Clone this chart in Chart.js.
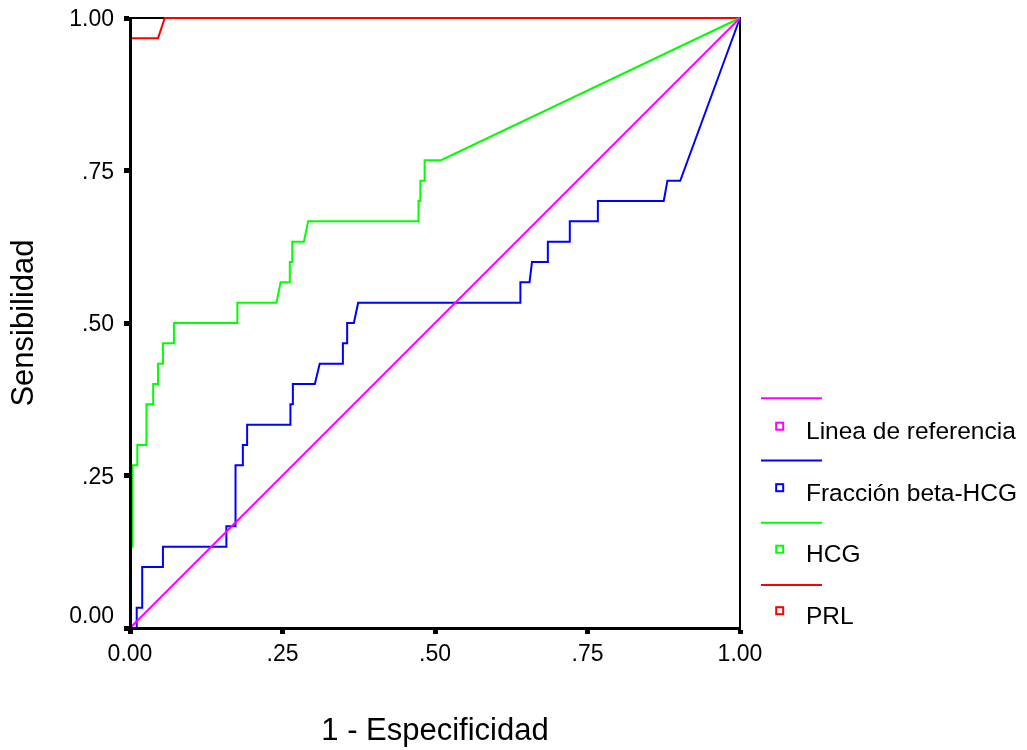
<!DOCTYPE html>
<html><head><meta charset="utf-8">
<script src="https://cdn.jsdelivr.net/npm/chart.js@4.4.1/dist/chart.umd.min.js"></script>
<style>html,body{margin:0;padding:0;background:#fff;overflow:hidden} #wrap{width:1027px;height:750px;}</style>
</head><body><div id="wrap"><canvas id="c" width="1027" height="750"></canvas></div>
<script>
const seriesLabels = ['Linea de referencia', 'Fracción beta-HCG', 'HCG', 'PRL'];
const seriesColors = ['#ff00ff', '#0000ff', '#00ff00', '#ff0000'];

const refX = [0, 1];
const refY = [0, 1];

const betaX = [0, 0.011, 0.011, 0.020, 0.020, 0.054, 0.054, 0.158, 0.158, 0.173,
  0.173, 0.185, 0.185, 0.192, 0.192, 0.263, 0.263, 0.267, 0.267, 0.303,
  0.311, 0.349, 0.349, 0.356, 0.356, 0.367, 0.374, 0.640, 0.640, 0.655,
  0.659, 0.685, 0.685, 0.721, 0.721, 0.767, 0.767, 0.875, 0.881, 0.902, 1];
const betaY = [0, 0, 0.033, 0.033, 0.100, 0.100, 0.133, 0.133, 0.167, 0.167,
  0.267, 0.267, 0.300, 0.300, 0.333, 0.333, 0.367, 0.367, 0.400, 0.400,
  0.433, 0.433, 0.467, 0.467, 0.500, 0.500, 0.533, 0.533, 0.567, 0.567,
  0.600, 0.600, 0.633, 0.633, 0.667, 0.667, 0.700, 0.700, 0.733, 0.733, 1];

const hcgX = [0, 0, 0.004, 0.004, 0.012, 0.012, 0.027, 0.027, 0.038, 0.038,
  0.046, 0.046, 0.054, 0.054, 0.072, 0.072, 0.176, 0.176, 0.240, 0.247,
  0.262, 0.262, 0.266, 0.266, 0.285, 0.292, 0.473, 0.473, 0.476, 0.476,
  0.483, 0.483, 0.510, 1];
const hcgY = [0, 0.133, 0.133, 0.267, 0.267, 0.300, 0.300, 0.367, 0.367, 0.400,
  0.400, 0.433, 0.433, 0.467, 0.467, 0.500, 0.500, 0.533, 0.533, 0.567,
  0.567, 0.600, 0.600, 0.633, 0.633, 0.667, 0.667, 0.700, 0.700, 0.733,
  0.733, 0.767, 0.767, 1];

const prlX = [0, 0, 0.046, 0.057, 1];
const prlY = [0, 0.967, 0.967, 1, 1];

const tickLabels = ['0.00', '.25', '.50', '.75', '1.00'];
const xTitle = '1 - Especificidad';
const yTitle = 'Sensibilidad';

const FONT = '"Liberation Sans", Arial, sans-serif';
const toPts = (xs, ys) => xs.map((x, i) => ({x: x, y: ys[i]}));
const seriesData = [toPts(refX, refY), toPts(betaX, betaY), toPts(hcgX, hcgY), toPts(prlX, prlY)];

const framePlugin = {
  id: 'frame',
  beforeDatasetsDraw(chart) {
    const {ctx, chartArea: a} = chart;
    ctx.save();
    ctx.strokeStyle = '#000';
    ctx.lineWidth = 2;
    ctx.beginPath();
    ctx.moveTo(a.left, a.top);
    ctx.lineTo(a.right, a.top);
    ctx.lineTo(a.right, a.bottom);
    ctx.stroke();
    ctx.restore();
  }
};

const legendPlugin = {
  id: 'spssLegend',
  afterDraw(chart) {
    const {ctx, chartArea: a} = chart;
    ctx.save();
    chart.data.datasets.forEach((ds, i) => {
      const ly = 398.3 + i * 62.2;
      ctx.strokeStyle = ds.borderColor;
      ctx.lineWidth = 2;
      ctx.beginPath();
      ctx.moveTo(a.right + 21, ly);
      ctx.lineTo(a.right + 82, ly);
      ctx.stroke();
      const sy = 426.2 + i * 61.5;
      ctx.lineWidth = 2;
      ctx.strokeRect(a.right + 36.2, sy - 3.5, 7, 7);
      ctx.fillStyle = '#000';
      ctx.font = '24.5px ' + FONT;
      ctx.textBaseline = 'alphabetic';
      ctx.textAlign = 'left';
      ctx.fillText(ds.label, a.right + 66, sy + 13.2);
    });
    ctx.restore();
  }
};

const commonGrid = {display: true, drawOnChartArea: false, drawTicks: true, tickLength: 6, tickWidth: 5, tickColor: '#000'};
const commonBorder = {display: true, color: '#000', width: 3, z: 1};

new Chart(document.getElementById('c'), {
  type: 'line',
  data: {
    datasets: seriesLabels.map((lab, i) => ({
      label: lab,
      data: seriesData[i],
      borderColor: seriesColors[i],
      backgroundColor: seriesColors[i],
      borderWidth: 2,
      pointRadius: 0,
      fill: false,
      tension: 0,
      clip: false
    }))
  },
  options: {
    responsive: false,
    animation: false,
    devicePixelRatio: 1,
    layout: {padding: {left: 0, top: 18, right: 287, bottom: 0}},
    plugins: {legend: {display: false}, tooltip: {enabled: false}},
    scales: {
      x: {
        type: 'linear', position: 'bottom', min: 0, max: 1,
        ticks: {stepSize: 0.25, autoSkip: false, maxRotation: 0, color: '#000', padding: 7,
          font: {family: FONT, size: 23},
          callback: (v, i) => tickLabels[i]},
        grid: commonGrid, border: commonBorder,
        title: {display: true, text: xTitle, color: '#000', font: {family: FONT, size: 31}, padding: {top: 0, bottom: 0}},
        afterFit: s => { s.height = 122; s.paddingLeft = 0; s.paddingRight = 0; }
      },
      y: {
        type: 'linear', position: 'left', min: 0, max: 1,
        ticks: {stepSize: 0.25, autoSkip: false, color: '#000', padding: 10, labelOffset: 2,
          font: {family: FONT, size: 23},
          callback: (v, i) => i === 0 ? [tickLabels[i], ''] : tickLabels[i]},
        grid: commonGrid, border: commonBorder,
        title: {display: true, text: yTitle, color: '#000', font: {family: FONT, size: 31}, padding: {top: 6, bottom: 0}},
        afterFit: s => { s.width = 130; s.paddingTop = 0; s.paddingBottom = 0; }
      }
    }
  },
  plugins: [framePlugin, legendPlugin]
});
</script>
</body></html>
